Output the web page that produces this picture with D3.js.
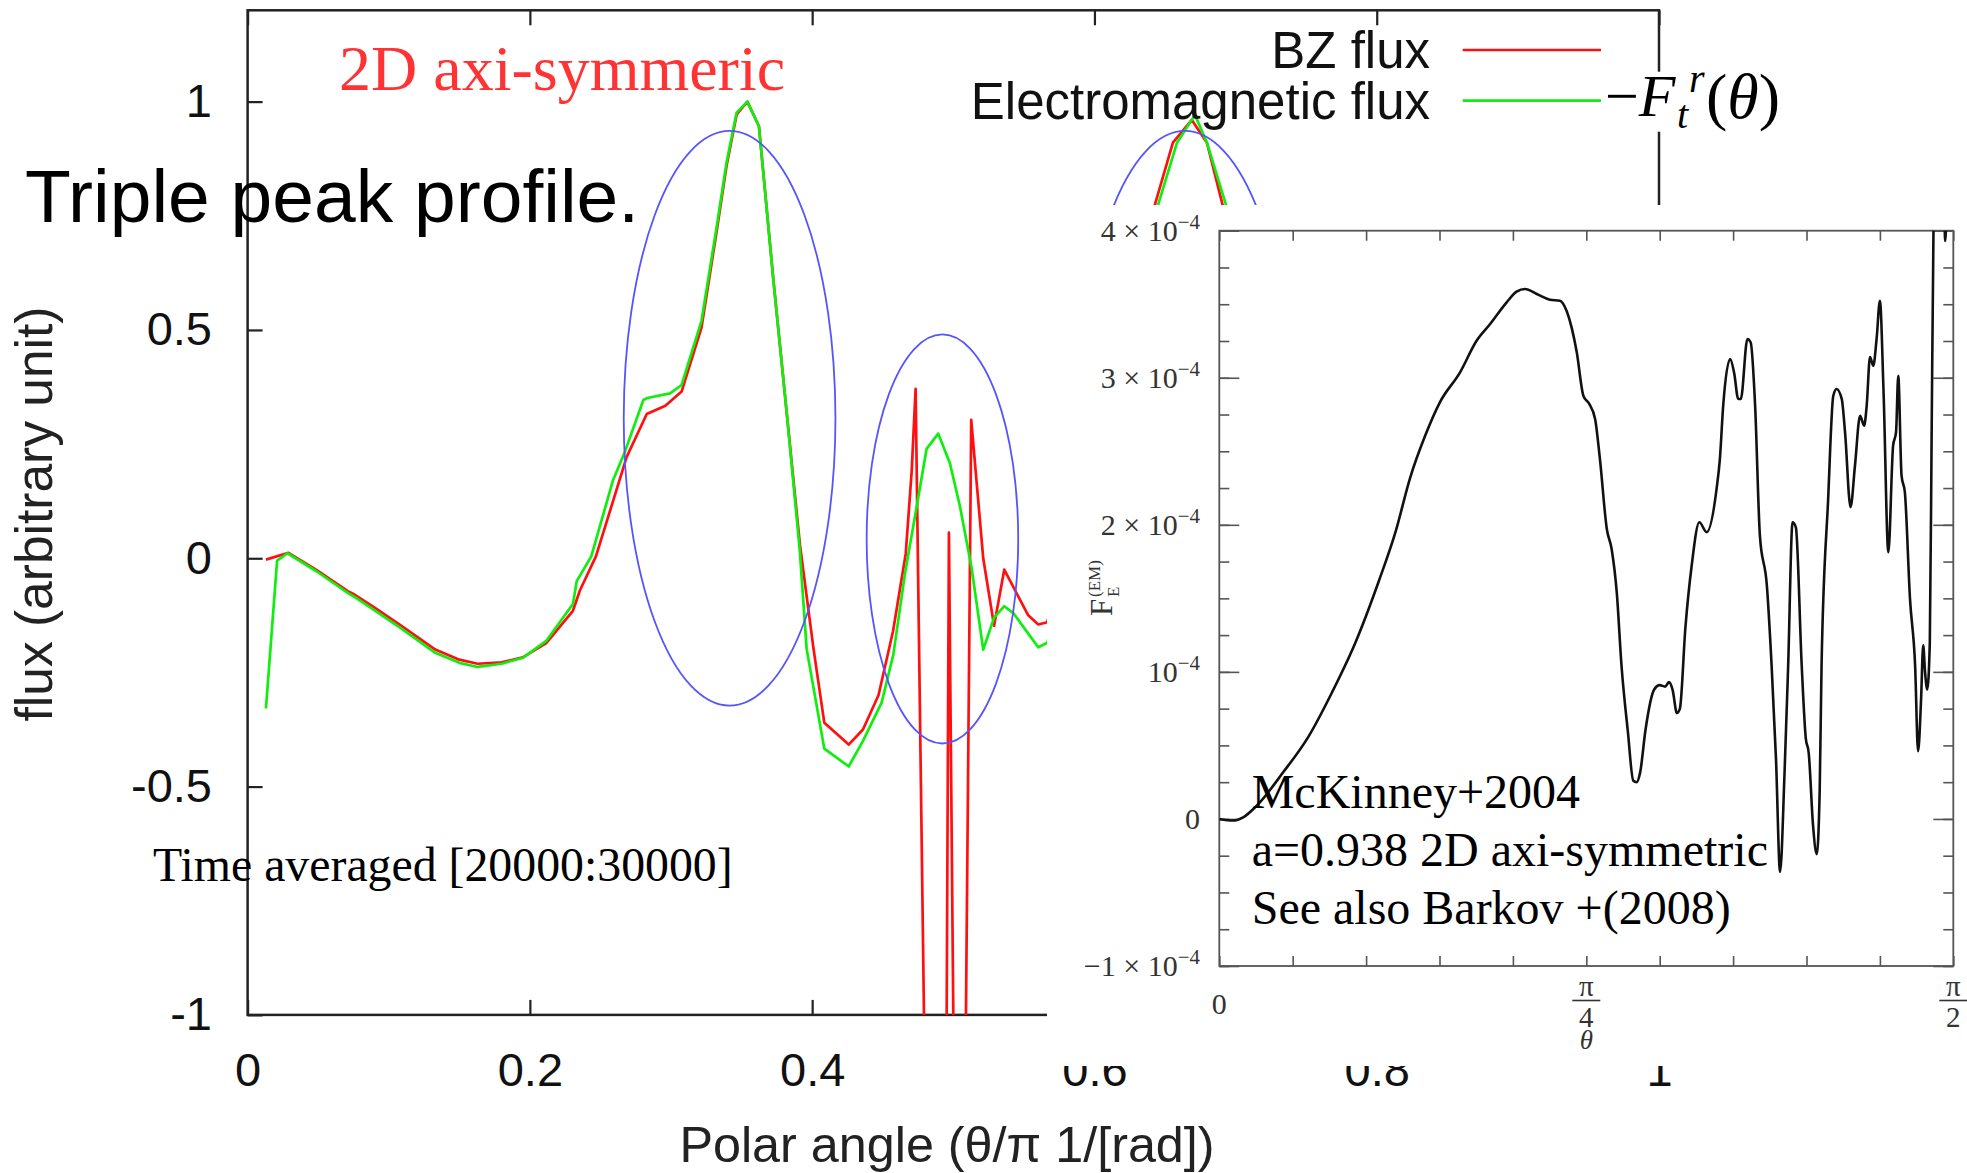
<!DOCTYPE html>
<html><head><meta charset="utf-8">
<script src="https://cdn.jsdelivr.net/npm/d3@7"></script>
<style>body{margin:0;background:#fff}svg{display:block}</style>
</head><body>
<script>
// ---------- main plot data (theta/pi, flux) ----------
const bzTheta = [0.013,0.029,0.049,0.071,0.076,0.090,0.1085,0.133,0.150,0.163,0.180,0.195,0.2116,0.2305,0.2355,0.2468,0.2686,0.2828,0.296,0.3075,0.3216,0.3323,0.3394,0.3465,0.3541,0.3623,0.3725,0.382,0.3914,0.401,0.4086,0.4259,0.436,0.447,0.4573,0.4663,0.4705,0.4733,0.4801,0.4950,0.4969,0.5006,0.5084,0.5127,0.5212,0.5289,0.5361,0.5531,0.5602,0.5666,0.6428,0.6556,0.669,0.6797,0.6908,0.70];
const bzFlux  = [-0.003,0.012,-0.026,-0.072,-0.080,-0.108,-0.147,-0.200,-0.222,-0.231,-0.228,-0.217,-0.186,-0.115,-0.07,0.004,0.222,0.316,0.334,0.365,0.505,0.715,0.86,0.972,1.000,0.946,0.61,0.318,0.028,-0.199,-0.360,-0.408,-0.375,-0.30,-0.16,0.01,0.19,0.371,-1.2,-1.2,0.056,-1.2,-1.2,0.303,0.000,-0.148,-0.025,-0.125,-0.145,-0.14,0.774,0.910,0.960,0.910,0.774,0.66];
const emTheta = [0.013,0.0209,0.0283,0.049,0.071,0.076,0.090,0.1085,0.133,0.150,0.163,0.180,0.195,0.2116,0.2305,0.2332,0.2435,0.2589,0.2674,0.2804,0.2832,0.2993,0.3075,0.3216,0.3323,0.3394,0.3465,0.3541,0.3623,0.3725,0.382,0.3912,0.3961,0.4086,0.4259,0.4362,0.4492,0.4575,0.4658,0.4741,0.4811,0.4893,0.4976,0.5047,0.513,0.5212,0.5289,0.5361,0.5425,0.5531,0.5602,0.5666,0.6451,0.6585,0.6712,0.6797,0.6932,0.70];
const emFlux  = [-0.329,-0.005,0.011,-0.029,-0.076,-0.085,-0.114,-0.153,-0.207,-0.229,-0.238,-0.231,-0.218,-0.181,-0.100,-0.05,0.004,0.171,0.234,0.3467,0.351,0.361,0.3795,0.52,0.725,0.868,0.976,1.000,0.946,0.61,0.318,0.018,-0.199,-0.417,-0.456,-0.399,-0.316,-0.211,-0.033,0.114,0.2396,0.273,0.208,0.114,-0.022,-0.200,-0.13,-0.105,-0.12,-0.165,-0.195,-0.185,0.774,0.910,0.971,0.910,0.774,0.69];
const xTickValues = [0,0.2,0.4,0.6,0.8,1];
const xTickLabels = ["0","0.2","0.4","0.6","0.8","1"];
const yTickValues = [-1,-0.5,0,0.5,1];
const yTickLabels = ["-1","-0.5","0","0.5","1"];
// annotation ellipses (data units)
const ellipseCX = [0.3415,0.4923,0.6641];
const ellipseCY = [0.3066,0.0423,0.3066];
const ellipseRX = [0.075,0.0537,0.075];
const ellipseRY = [0.6294,0.4479,0.6294];

// ---------- inset data (theta in units of pi/4, F in 1e-4) ----------
const mckTheta = [0,0.038,0.065,0.102,0.174,0.243,0.307,0.371,0.435,0.48,0.52,0.56,0.601,0.656,0.701,0.738,0.783,0.81,0.833,0.865,0.901,0.928,0.947,0.974,0.992,1.008,1.024,1.037,1.056,1.069,1.083,1.096,1.113,1.128,1.137,1.147,1.161,1.185,1.20,1.215,1.225,1.235,1.247,1.255,1.27,1.287,1.308,1.328,1.355,1.364,1.373,1.392,1.403,1.414,1.421,1.439,1.448,1.46,1.473,1.492,1.505,1.517,1.528,1.54,1.55,1.562,1.571,1.587,1.598,1.606,1.618,1.628,1.636,1.641,1.659,1.673,1.682,1.696,1.705,1.72,1.732,1.746,1.757,1.764,1.773,1.782,1.791,1.80,1.81,1.823,1.836,1.844,1.85,1.859,1.868,1.882,1.896,1.904,1.912,1.918,1.923,1.929,1.936,1.941,1.946,1.952,1.972,1.978,1.984];
const mckFlux  = [0,-0.011,0.011,0.09,0.317,0.56,0.86,1.20,1.62,1.95,2.32,2.60,2.833,3.037,3.252,3.366,3.513,3.586,3.604,3.57,3.531,3.524,3.45,3.173,2.878,2.822,2.72,2.45,1.97,1.836,1.54,1.04,0.6,0.26,0.25,0.32,0.6,0.88,0.91,0.9,0.93,0.88,0.72,0.75,1.30,1.72,2.017,1.95,2.244,2.448,2.81,3.128,3.03,2.856,2.856,3.264,3.24,2.81,1.926,1.586,1.04,0.4,-0.36,0.3,1.04,2.017,1.983,1.04,0.55,0.45,-0.05,-0.24,0.2,1.04,2.176,2.878,2.924,2.856,2.63,2.12,2.40,2.742,2.674,2.81,3.14,3.082,3.264,3.524,2.9,1.813,2.538,2.63,3.014,2.334,2.222,1.496,1.04,0.46,0.80,1.18,1.0,0.88,1.2,2.63,4.0,4.6,4.6,3.93,4.6];
const insetXTicks = [0,0.2,0.4,0.6,0.8,1,1.2,1.4,1.6,1.8,2];
const insetYMajor = [-1,0,1,2,3,4];
const insetYBase = ["\u22121 \u00d7 10","0","10","2 \u00d7 10","3 \u00d7 10","4 \u00d7 10"];
const insetYExp  = ["\u22124","","\u22124","\u22124","\u22124","\u22124"];

const W = 1967, H = 1173;
const svg = d3.select("body").append("svg").attr("width", W).attr("height", H);
svg.append("rect").attr("width", W).attr("height", H).attr("fill", "#fff");

// ---------- main plot ----------
const x = d3.scaleLinear().domain([0, 1]).range([247.6, 1659]);
const y = d3.scaleLinear().domain([-1, 1.2]).range([1014.9, 10.3]);
const sans = "'Liberation Sans', Arial, sans-serif";
const serif = "'Liberation Serif', 'Times New Roman', serif";

svg.append("clipPath").attr("id", "mainclip").append("rect")
  .attr("x", x(0)).attr("y", y(1.2)).attr("width", x(1) - x(0)).attr("height", y(-1) - y(1.2));

function styleAxis(g, color, w) {
  g.select(".domain").remove();
  g.selectAll(".tick line").attr("stroke", color).attr("stroke-width", w);
}
const gB = svg.append("g").attr("transform", `translate(0,${y(-1)})`)
  .call(d3.axisBottom(x).tickValues(xTickValues).tickSize(-15).tickPadding(37.7).tickFormat((d, i) => xTickLabels[i]));
styleAxis(gB, "#222", 2.2);
gB.selectAll("text").attr("font-family", sans).attr("font-size", 47).attr("fill", "#111");
const gT = svg.append("g").attr("transform", `translate(0,${y(1.2)})`)
  .call(d3.axisTop(x).tickValues(xTickValues).tickSize(-15).tickFormat(""));
styleAxis(gT, "#222", 2.2);
const gL = svg.append("g").attr("transform", `translate(${x(0)},0)`)
  .call(d3.axisLeft(y).tickValues(yTickValues).tickSize(-15).tickPadding(35.6).tickFormat((d, i) => yTickLabels[i]));
styleAxis(gL, "#222", 2.2);
gL.selectAll("text").attr("font-family", sans).attr("font-size", 47).attr("fill", "#111");
const gR = svg.append("g").attr("transform", `translate(${x(1)},0)`)
  .call(d3.axisRight(y).tickValues(yTickValues).tickSize(-15).tickFormat(""));
styleAxis(gR, "#222", 2.2);
svg.append("rect").attr("x", x(0)).attr("y", y(1.2)).attr("width", x(1) - x(0)).attr("height", y(-1) - y(1.2))
  .attr("fill", "none").attr("stroke", "#222").attr("stroke-width", 2.5);

const line = d3.line().x(d => x(d[0])).y(d => y(d[1]));
const lines = svg.append("g").attr("clip-path", "url(#mainclip)");
lines.append("path").datum(d3.zip(bzTheta, bzFlux)).attr("d", line)
  .attr("fill", "none").attr("stroke", "#ff1010").attr("stroke-width", 2.7).attr("stroke-linejoin", "round");
lines.append("path").datum(d3.zip(emTheta, emFlux)).attr("d", line)
  .attr("fill", "none").attr("stroke", "#10ee10").attr("stroke-width", 2.7).attr("stroke-linejoin", "round");

// ellipses
ellipseCX.forEach((cx, i) => {
  svg.append("ellipse")
    .attr("cx", x(cx)).attr("cy", y(ellipseCY[i]))
    .attr("rx", x(cx + ellipseRX[i]) - x(cx)).attr("ry", y(ellipseCY[i] - ellipseRY[i]) - y(ellipseCY[i]))
    .attr("fill", "none").attr("stroke", "#5555ff").attr("stroke-width", 1.8);
});

// legend
svg.append("text").attr("x", 1430).attr("y", 68.3).attr("text-anchor", "end")
  .attr("font-family", sans).attr("font-size", 51).attr("fill", "#111").text("BZ flux");
svg.append("text").attr("x", 1430).attr("y", 119.3).attr("text-anchor", "end")
  .attr("font-family", sans).attr("font-size", 51).attr("fill", "#111").text("Electromagnetic flux");
svg.append("line").attr("x1", 1462.7).attr("x2", 1601).attr("y1", 50).attr("y2", 50).attr("stroke", "#ff1010").attr("stroke-width", 2.7);
svg.append("line").attr("x1", 1462.7).attr("x2", 1601).attr("y1", 100.7).attr("y2", 100.7).attr("stroke", "#10ee10").attr("stroke-width", 2.7);

// annotations
svg.append("text").attr("x", 339).attr("y", 90).attr("font-family", serif).attr("font-size", 64)
  .attr("fill", "#ff3333").text("2D axi-symmeric");
svg.append("text").attr("x", 153).attr("y", 881).attr("font-family", serif).attr("font-size", 47.8)
  .attr("fill", "#000").text("Time averaged [20000:30000]");

// axis titles
svg.append("text").attr("transform", "translate(52,514) rotate(-90)").attr("text-anchor", "middle")
  .attr("font-family", sans).attr("font-size", 51.5).attr("fill", "#222").text("flux (arbitrary unit)");
svg.append("text").attr("x", 947).attr("y", 1162).attr("text-anchor", "middle")
  .attr("font-family", sans).attr("font-size", 50.3).attr("fill", "#222").text("Polar angle (\u03b8/\u03c0 1/[rad])");

svg.append("text").attr("x", 25).attr("y", 221.7).attr("font-family", sans).attr("font-size", 75)
  .attr("fill", "#000").text("Triple peak profile.");

// ---------- inset ----------
svg.append("rect").attr("x", 1047).attr("y", 205).attr("width", W - 1047).attr("height", 1066 - 205).attr("fill", "#fff");
const xi = d3.scaleLinear().domain([0, 2]).range([1219.3, 1953.3]);
const yi = d3.scaleLinear().domain([-1, 4]).range([966, 230.7]);
svg.append("clipPath").attr("id", "insetclip").append("rect")
  .attr("x", xi(0)).attr("y", yi(4)).attr("width", xi(2) - xi(0)).attr("height", yi(-1) - yi(4));
const icol = "#555";
const yMinor = d3.range(-1, 4.001, 0.25);
[["axisBottom", yi(-1)], ["axisTop", yi(4)]].forEach(([fn, ty]) => {
  const g = svg.append("g").attr("transform", `translate(0,${ty})`)
    .call(d3[fn](xi).tickValues(insetXTicks).tickSize(-10).tickFormat(""));
  styleAxis(g, icol, 1.6);
});
[["axisLeft", xi(0)], ["axisRight", xi(2)]].forEach(([fn, tx]) => {
  const g1 = svg.append("g").attr("transform", `translate(${tx},0)`)
    .call(d3[fn](yi).tickValues(yMinor).tickSize(-10).tickFormat(""));
  styleAxis(g1, icol, 1.6);
  const g2 = svg.append("g").attr("transform", `translate(${tx},0)`)
    .call(d3[fn](yi).tickValues(insetYMajor).tickSize(-20).tickFormat(""));
  styleAxis(g2, icol, 1.6);
});
svg.append("rect").attr("x", xi(0)).attr("y", yi(4)).attr("width", xi(2) - xi(0)).attr("height", yi(-1) - yi(4))
  .attr("fill", "none").attr("stroke", icol).attr("stroke-width", 1.8);

svg.append("g").attr("clip-path", "url(#insetclip)").append("path")
  .datum(d3.zip(mckTheta, mckFlux))
  .attr("d", d3.line().x(d => xi(d[0])).y(d => yi(d[1])).curve(d3.curveMonotoneX))
  .attr("fill", "none").attr("stroke", "#111").attr("stroke-width", 2.6).attr("stroke-linejoin", "round");

// inset y tick labels
insetYMajor.forEach((v, i) => {
  const t = svg.append("text").attr("x", 1200).attr("y", yi(v) + 10).attr("text-anchor", "end")
    .attr("font-family", serif).attr("font-size", 30).attr("fill", "#333");
  t.append("tspan").text(insetYBase[i]);
  if (insetYExp[i]) t.append("tspan").attr("dy", -12).attr("font-size", 21).text(insetYExp[i]);
});
// inset x tick labels
svg.append("text").attr("x", xi(0)).attr("y", 1014).attr("text-anchor", "middle")
  .attr("font-family", serif).attr("font-size", 30).attr("fill", "#333").text("0");
[[1, "4"], [2, "2"]].forEach(([v, den]) => {
  const cx = xi(v);
  svg.append("text").attr("x", cx).attr("y", 996).attr("text-anchor", "middle")
    .attr("font-family", serif).attr("font-size", 29).attr("fill", "#333").text("\u03c0");
  svg.append("line").attr("x1", cx - 14).attr("x2", cx + 14).attr("y1", 1000.5).attr("y2", 1000.5)
    .attr("stroke", "#333").attr("stroke-width", 1.6);
  svg.append("text").attr("x", cx).attr("y", 1027).attr("text-anchor", "middle")
    .attr("font-family", serif).attr("font-size", 29).attr("fill", "#333").text(den);
});
svg.append("text").attr("x", xi(1)).attr("y", 1049).attr("text-anchor", "middle")
  .attr("font-family", serif).attr("font-style", "italic").attr("font-size", 27).attr("fill", "#333").text("\u03b8");
// inset y title
const yt = svg.append("g").attr("transform", "translate(1112,616) rotate(-90)");
yt.append("text").attr("x", 0).attr("y", 0).attr("font-family", serif).attr("font-size", 31).attr("fill", "#333").text("F");
yt.append("text").attr("x", 19).attr("y", 7).attr("font-family", serif).attr("font-size", 17).attr("fill", "#333").text("E");
yt.append("text").attr("x", 19).attr("y", -12).attr("font-family", serif).attr("font-size", 17).attr("fill", "#333").text("(EM)");

// inset annotation
["McKinney+2004", "a=0.938 2D axi-symmetric", "See also Barkov +(2008)"].forEach((s, i) => {
  svg.append("text").attr("x", 1251.7).attr("y", 808.3 + i * 57.9).attr("font-family", serif)
    .attr("font-size", 48).attr("fill", "#000").text(s);
});

// formula label -F_t^r(theta)
svg.append("rect").attr("x", 1642).attr("y", 71.7).attr("width", 140).attr("height", 60).attr("fill", "#fff");
const f1 = svg.append("text").attr("x", 1605).attr("y", 116).attr("font-family", serif).attr("font-size", 60).attr("fill", "#000");
f1.append("tspan").text("\u2212");
f1.append("tspan").attr("font-style", "italic").text("F");
svg.append("text").attr("x", 1677).attr("y", 128).attr("font-family", serif).attr("font-style", "italic")
  .attr("font-size", 40).attr("fill", "#000").text("t");
svg.append("text").attr("x", 1689).attr("y", 92).attr("font-family", serif).attr("font-style", "italic")
  .attr("font-size", 40).attr("fill", "#000").text("r");
const f2 = svg.append("text").attr("x", 1706).attr("y", 118).attr("font-family", serif).attr("font-size", 64).attr("fill", "#000");
f2.append("tspan").text("(");
f2.append("tspan").attr("font-style", "italic").text("\u03b8");
f2.append("tspan").text(")");
</script>
</body></html>
